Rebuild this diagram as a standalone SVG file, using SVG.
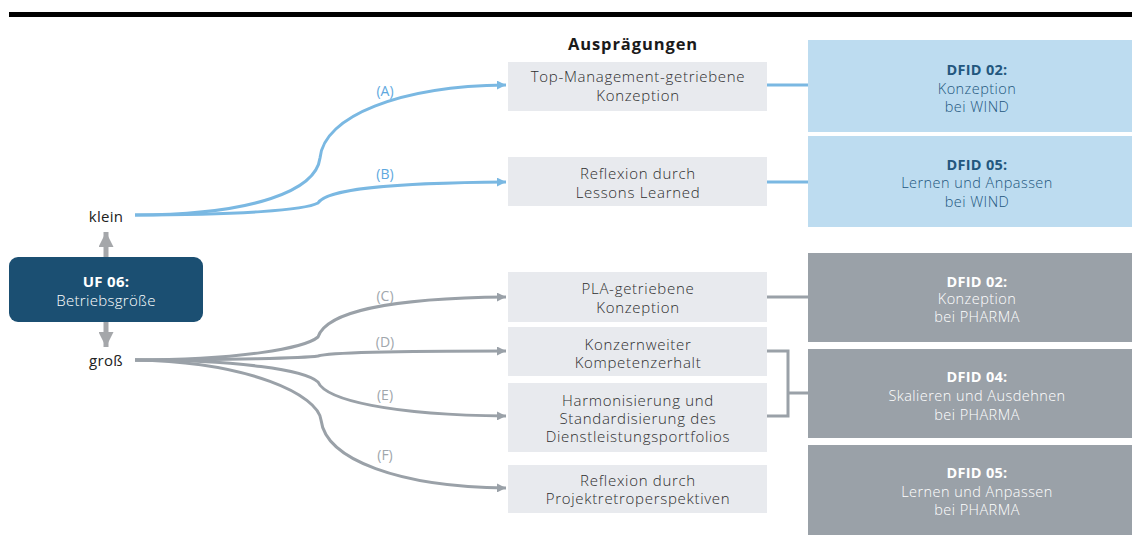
<svg xmlns="http://www.w3.org/2000/svg" width="1132" height="538" viewBox="0 0 1132 538">
  <defs>
    <style>
      text { font-family: "Open Sans", "Noto Sans", "Liberation Sans", sans-serif; text-anchor: middle; }
      .mid { fill: #e8eaee; }
      .midt { font-size: 15px; letter-spacing: 0.7px; fill: #2e2e2e; font-weight: 300; }
      .wind { fill: #bddcf0; }
      .windt { font-size: 14.5px; letter-spacing: 0.45px; fill: #23577e; font-weight: 300; }
      .pharma { fill: #9aa1a8; }
      .pharmat { font-size: 14.5px; letter-spacing: 0.45px; fill: #ffffff; font-weight: 300; }
      .b { font-weight: 700; letter-spacing: 0.3px; }
      .blue { fill: none; stroke: #7ab8e2; stroke-width: 3; }
      .gray { fill: none; stroke: #9aa1a8; stroke-width: 3; }
      .lblB { font-size: 14px; fill: #5ea8de; }
      .lblG { font-size: 14px; fill: #a0a6ac; }
    </style>
    <marker id="ahBlue" viewBox="0 0 10 10" refX="10" refY="5" markerWidth="3" markerHeight="3" orient="auto" markerUnits="strokeWidth">
      <path d="M0,0 L10,5 L0,10 z" fill="#7ab8e2"/>
    </marker>
    <marker id="ahGray" viewBox="0 0 10 10" refX="10" refY="5" markerWidth="3" markerHeight="3" orient="auto" markerUnits="strokeWidth">
      <path d="M0,0 L10,5 L0,10 z" fill="#9aa1a8"/>
    </marker>
    <marker id="ahSize" viewBox="0 0 10 10" refX="10" refY="5" markerWidth="3" markerHeight="3" orient="auto" markerUnits="strokeWidth">
      <path d="M0,0 L10,5 L0,10 z" fill="#a5a7aa"/>
    </marker>
  </defs>

  <!-- header rule -->
  <rect x="9" y="12" width="1123" height="5" fill="#000"/>

  <text x="633" y="50" style="font-size:16.5px;font-weight:700;letter-spacing:0.9px;fill:#1a1a1a">Ausprägungen</text>

  <!-- connectors -->
  <g id="connectors">
    <path class="blue" d="M135,215 C255,215 316,190 320,158 C324,116 400,86 506,85" marker-end="url(#ahBlue)"/>
    <path class="blue" d="M135,215 C240,215 305,210 318,203 C326,190 380,183 506,182" marker-end="url(#ahBlue)"/>
    <path class="gray" d="M135,360 C240,360 305,348 318,337 C326,312 390,298 506,297" marker-end="url(#ahGray)"/>
    <path class="gray" d="M135,360 C230,360 305,358 318,356 C330,352 400,351 506,351" marker-end="url(#ahGray)"/>
    <path class="gray" d="M135,360 C240,360 305,370 318,382 C326,400 390,415 506,416" marker-end="url(#ahGray)"/>
    <path class="gray" d="M135,360 C250,362 318,395 321,420 C326,460 400,487 506,488" marker-end="url(#ahGray)"/>

    <text x="385" y="96" class="lblB">(A)</text>
    <text x="385" y="179" class="lblB">(B)</text>
    <text x="385" y="301" class="lblG">(C)</text>
    <text x="385" y="347" class="lblG">(D)</text>
    <text x="385" y="400" class="lblG">(E)</text>
    <text x="385" y="460" class="lblG">(F)</text>

    <line class="blue" x1="767" y1="85" x2="808" y2="85"/>
    <line class="blue" x1="767" y1="182" x2="808" y2="182"/>
    <line class="gray" x1="767" y1="297" x2="808" y2="297"/>
    <path class="gray" d="M767,351 H788 V416 H767 M788,393 H808"/>

    <line x1="106" y1="257" x2="106" y2="232" stroke="#a5a7aa" stroke-width="5" marker-end="url(#ahSize)"/>
    <line x1="106" y1="322" x2="106" y2="347" stroke="#a5a7aa" stroke-width="5" marker-end="url(#ahSize)"/>
  </g>

  <!-- left factor node -->
  <g id="uf06">
    <rect x="9" y="257" width="194" height="65" rx="9" fill="#1b4f72"/>
    <text x="106" y="287" class="b" style="font-size:15px;fill:#fff">UF 06:</text>
    <text x="106" y="306" style="font-size:15px;letter-spacing:0.3px;font-weight:300;fill:#fff">Betriebsgröße</text>
  </g>
  <g id="klein"><text x="106" y="222" style="font-size:15px;letter-spacing:0.3px;fill:#222">klein</text></g>
  <g id="gross"><text x="106" y="366" style="font-size:15px;letter-spacing:0.3px;fill:#222">groß</text></g>

  <!-- characteristic nodes -->
  <g id="optA">
    <rect class="mid" x="508" y="62" width="259" height="49"/>
    <text class="midt" x="638" y="82">Top-Management-getriebene</text>
    <text class="midt" x="638" y="101">Konzeption</text>
  </g>
  <g id="optB">
    <rect class="mid" x="508" y="157" width="259" height="49"/>
    <text class="midt" x="638" y="179">Reflexion durch</text>
    <text class="midt" x="638" y="198">Lessons Learned</text>
  </g>
  <g id="optC">
    <rect class="mid" x="508" y="272" width="259" height="50"/>
    <text class="midt" x="638" y="294">PLA-getriebene</text>
    <text class="midt" x="638" y="313">Konzeption</text>
  </g>
  <g id="optD">
    <rect class="mid" x="508" y="327" width="259" height="49"/>
    <text class="midt" x="638" y="350">Konzernweiter</text>
    <text class="midt" x="638" y="368">Kompetenzerhalt</text>
  </g>
  <g id="optE">
    <rect class="mid" x="508" y="383" width="259" height="69"/>
    <text class="midt" x="638" y="406">Harmonisierung und</text>
    <text class="midt" x="638" y="424">Standardisierung des</text>
    <text class="midt" x="638" y="442">Dienstleistungsportfolios</text>
  </g>
  <g id="optF">
    <rect class="mid" x="508" y="465" width="259" height="48"/>
    <text class="midt" x="638" y="486">Reflexion durch</text>
    <text class="midt" x="638" y="504">Projektretroperspektiven</text>
  </g>

  <!-- design field nodes -->
  <g id="wind02">
    <rect class="wind" x="808" y="40" width="324" height="92"/>
    <text class="windt b" x="977" y="75">DFID 02:</text>
    <text class="windt" x="977" y="94">Konzeption</text>
    <text class="windt" x="977" y="112">bei WIND</text>
  </g>
  <g id="wind05">
    <rect class="wind" x="808" y="136" width="324" height="91"/>
    <text class="windt b" x="977" y="170">DFID 05:</text>
    <text class="windt" x="977" y="188">Lernen und Anpassen</text>
    <text class="windt" x="977" y="207">bei WIND</text>
  </g>
  <g id="pharma02">
    <rect class="pharma" x="808" y="253" width="324" height="89"/>
    <text class="pharmat b" x="977" y="287">DFID 02:</text>
    <text class="pharmat" x="977" y="304">Konzeption</text>
    <text class="pharmat" x="977" y="322">bei PHARMA</text>
  </g>
  <g id="pharma04">
    <rect class="pharma" x="808" y="349" width="324" height="89"/>
    <text class="pharmat b" x="977" y="382">DFID 04:</text>
    <text class="pharmat" x="977" y="401">Skalieren und Ausdehnen</text>
    <text class="pharmat" x="977" y="420">bei PHARMA</text>
  </g>
  <g id="pharma05">
    <rect class="pharma" x="808" y="445" width="324" height="90"/>
    <text class="pharmat b" x="977" y="478">DFID 05:</text>
    <text class="pharmat" x="977" y="497">Lernen und Anpassen</text>
    <text class="pharmat" x="977" y="515">bei PHARMA</text>
  </g>
</svg>
